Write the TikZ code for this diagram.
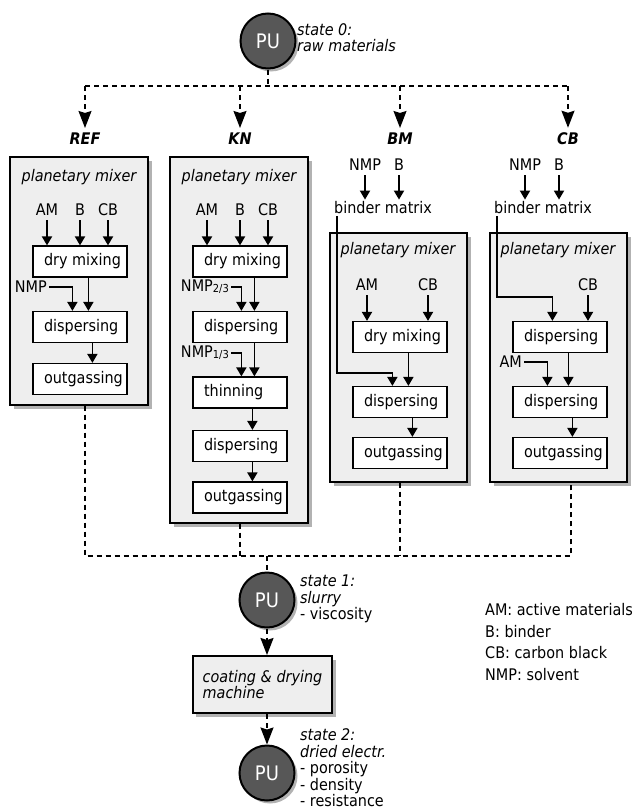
\documentclass[tikz,border=0pt]{standalone}
\usepackage{fontspec}
\setmainfont{DejaVu Sans}[FakeStretch=0.9]
\usetikzlibrary{arrows.meta,shadows,calc}
\definecolor{panelgray}{HTML}{EEEEEE}
\definecolor{unitgray}{HTML}{575757}
% fixed-width, left-aligned text inside the process steps
\newcommand\steptext[1]{\makebox[72pt][l]{#1}}
\newcommand\nmppart[1]{NMP\raisebox{-1pt}{\fontsize{11}{11}\selectfont #1}}

\begin{document}
\begin{tikzpicture}[x=1pt,y=-1pt,
  font=\fontsize{16}{16.5}\selectfont,
  panel/.style={draw=black, line width=1.4pt, fill=panelgray,
    drop shadow={shadow xshift=3.5pt, shadow yshift=-3.5pt, opacity=0.3, fill=black}},
  stepbox/.style={draw=black, line width=1.2pt, fill=white,
    minimum width=94pt, minimum height=31pt, inner xsep=11pt, inner ysep=0pt},
  lab/.style={inner sep=2pt},
  inlab/.style={inner xsep=2pt, inner ysep=4pt},
  mixer/.style={font=\fontsize{16}{16}\selectfont\itshape},
  head/.style={inner sep=5pt, font=\fontsize{16}{16}\selectfont\bfseries\itshape},
  unit/.style={circle, draw=black, line width=2pt, fill=unitgray, text=white,
    minimum size=55pt, inner sep=0pt, font=\fontsize{20}{20}\selectfont,
    drop shadow={shadow xshift=3pt, shadow yshift=-3pt, opacity=0.3, fill=black}},
  machine/.style={draw=black, line width=2pt, fill=panelgray, minimum width=139pt,
    minimum height=57pt, inner xsep=10pt, align=left,
    font=\fontsize{16}{16}\selectfont\itshape,
    drop shadow={shadow xshift=3.5pt, shadow yshift=-3.5pt, opacity=0.3, fill=black}},
  note/.style={anchor=west, align=left, inner sep=0pt},
  arr/.style={line width=1.8pt, -{Triangle[length=9pt,width=10pt]}},
  dline/.style={line width=1.4pt, dash pattern=on 5pt off 4pt},
  darr/.style={dline, -{Stealth[length=17pt,width=13pt,inset=2pt]}}
]
\fill[white] (0,0) rectangle (637,811);
\useasboundingbox (0,0) rectangle (637,811);

% ---------- raw materials ----------
\node[unit] (pu0) at (268,41) {PU};
\node[note, font=\fontsize{16}{15.5}\selectfont] (s0) at (297,37.5) {{\itshape state 0:}\\{\itshape raw materials}};

\coordinate (topL) at (85,86);
\coordinate (topR) at (568,86);

\node[head] (hREF) at (85,139) {REF};
\node[head] (hKN)  at (240,139) {KN};
\node[head] (hBM)  at (400,139) {BM};
\node[head] (hCB)  at (568,139) {CB};

\draw[dline] (pu0.south) -- (pu0.south |- topL);
\draw[dline] (topL) -- (topR);
\draw[darr] (topL) -- (hREF.north);
\draw[darr] (hKN.north |- topL) -- (hKN.north);
\draw[darr] (hBM.north |- topL) -- (hBM.north);
\draw[darr] (topR) -- (hCB.north);

% ---------- panels ----------
\node[panel, minimum width=138pt, minimum height=248pt] (refbox) at (79,281) {};
\node[panel, minimum width=138pt, minimum height=366pt] (knbox) at (239,340) {};
\node[panel, minimum width=137pt, minimum height=249pt] (bmbox) at (398.5,357.5) {};
\node[panel, minimum width=137pt, minimum height=249pt] (cbbox) at (558.5,357.5) {};

% ---------- REF ----------
\node[mixer] (pmR) at (79,177) {planetary mixer};
\node[inlab] (amR) at (47,210) {AM};
\node[inlab] (bR)  at (80,210) {B};
\node[inlab] (cbR) at (108,210) {CB};
\node[stepbox] (dmR)   at (80,261.5) {\steptext{dry mixing}};
\node[stepbox] (dispR) at (80,327)   {\steptext{dispersing}};
\node[stepbox] (outR)  at (80,379)   {\steptext{outgassing}};
\node[lab, anchor=east] (nmpR) at (49,287) {NMP};
\draw[arr] (amR.south) -- (amR.south |- dmR.north);
\draw[arr] (bR.south)  -- (bR.south |- dmR.north);
\draw[arr] (cbR.south) -- (cbR.south |- dmR.north);
\draw[arr] ($(dmR.south west)+(56,0)$) -- ($(dispR.north west)+(56,0)$);
\draw[arr] (nmpR.east) -| ($(dispR.north west)+(40,0)$);
\draw[arr] ($(dispR.south west)+(60,0)$) -- ($(outR.north west)+(60,0)$);

% ---------- KN ----------
\node[mixer] (pmK) at (239,177) {planetary mixer};
\node[inlab] (amK) at (207,210) {AM};
\node[inlab] (bK)  at (240,210) {B};
\node[inlab] (cbK) at (268,210) {CB};
\node[stepbox] (dmK)    at (240,261.5) {\steptext{dry mixing}};
\node[stepbox] (dispK)  at (240,327)   {\steptext{dispersing}};
\node[stepbox] (thinK)  at (240,392.5) {\steptext{thinning}};
\node[stepbox] (disp2K) at (240,446)   {\steptext{dispersing}};
\node[stepbox] (outK)   at (240,497.5) {\steptext{outgassing}};
\node[lab, anchor=east] (nmpKa) at (231,287) {\nmppart{2/3}};
\node[lab, anchor=east] (nmpKb) at (231,353) {\nmppart{1/3}};
\draw[arr] (amK.south) -- (amK.south |- dmK.north);
\draw[arr] (bK.south)  -- (bK.south |- dmK.north);
\draw[arr] (cbK.south) -- (cbK.south |- dmK.north);
\draw[arr] ($(dmK.south west)+(62,0)$) -- ($(dispK.north west)+(62,0)$);
\draw[arr] (nmpKa.east) -| ($(dispK.north west)+(49,0)$);
\draw[arr] ($(dispK.south west)+(62,0)$) -- ($(thinK.north west)+(62,0)$);
\draw[arr] (nmpKb.east) -| ($(thinK.north west)+(49,0)$);
\draw[arr] ($(thinK.south west)+(60,0)$) -- ($(disp2K.north west)+(60,0)$);
\draw[arr] ($(disp2K.south west)+(60,0)$) -- ($(outK.north west)+(60,0)$);

% ---------- BM ----------
\node[inlab] (nmpB) at (365,165) {NMP};
\node[inlab] (bB)   at (399,165) {B};
\node[lab] (matB)   at (383,208) {binder matrix};
\draw[arr] (nmpB.south) -- (nmpB.south |- matB.north);
\draw[arr] (bB.south)   -- (bB.south |- matB.north);
\node[mixer] (pmB) at (398,250) {planetary mixer};
\node[inlab] (amB) at (367,285) {AM};
\node[inlab] (cbB) at (428,285) {CB};
\node[stepbox] (dmB)   at (400,337) {\steptext{dry mixing}};
\node[stepbox] (dispB) at (400,402) {\steptext{dispersing}};
\node[stepbox] (outB)  at (400,453) {\steptext{outgassing}};
\coordinate (tapB) at (337,373);
\draw[arr] (amB.south) -- (amB.south |- dmB.north);
\draw[arr] (cbB.south) -- (cbB.south |- dmB.north);
\draw[arr] (matB.south -| tapB) -- (tapB) -| ($(dispB.north west)+(40,0)$);
\draw[arr] ($(dmB.south west)+(56,0)$) -- ($(dispB.north west)+(56,0)$);
\draw[arr] ($(dispB.south west)+(60,0)$) -- ($(outB.north west)+(60,0)$);

% ---------- CB ----------
\node[inlab] (nmpC) at (525,165) {NMP};
\node[inlab] (bC)   at (559,165) {B};
\node[lab] (matC)   at (543,208) {binder matrix};
\draw[arr] (nmpC.south) -- (nmpC.south |- matC.north);
\draw[arr] (bC.south)   -- (bC.south |- matC.north);
\node[mixer] (pmC) at (558,250) {planetary mixer};
\node[inlab] (cbC) at (588,285) {CB};
\node[stepbox] (disp1C) at (560,337) {\steptext{dispersing}};
\node[stepbox] (disp2C) at (560,402) {\steptext{dispersing}};
\node[stepbox] (outC)   at (560,453) {\steptext{outgassing}};
\node[lab, anchor=east] (amC) at (524,362) {AM};
\coordinate (tapC) at (497,297);
\draw[arr] (cbC.south) -- (cbC.south |- disp1C.north);
\draw[arr] (matC.south -| tapC) -- (tapC) -| ($(disp1C.north west)+(40,0)$);
\draw[arr] ($(disp1C.south west)+(56,0)$) -- ($(disp2C.north west)+(56,0)$);
\draw[arr] (amC.east) -| ($(disp2C.north west)+(35,0)$);
\draw[arr] ($(disp2C.south west)+(60,0)$) -- ($(outC.north west)+(60,0)$);

% ---------- slurry and electrode ----------
\coordinate (botL) at (85,556);
\coordinate (botR) at (571,556);
\node[unit] (pu1) at (267,600) {PU};
\node[machine] (coat) at (262.5,684.5) {coating \& drying\\machine};
\node[unit] (pu2) at (267,773) {PU};

\draw[dline] (refbox.south -| botL) -- (botL) -- (botR) -- (cbbox.south -| botR);
\draw[dline] (knbox.south -| hKN) -- (hKN |- botL);
\draw[dline] (bmbox.south -| hBM) -- (hBM |- botL);
\draw[dline] (pu1.north |- botL) -- (pu1.north);
\draw[darr] (pu1.south) -- (coat.north -| pu1.south);
\draw[darr] (coat.south -| pu2.north) -- (pu2.north);

\node[note] (s1) at (300,599) {{\itshape state 1:}\\{\itshape slurry}\\- viscosity};
\node[note] (s2) at (300,768) {{\itshape state 2:}\\{\itshape dried electr.}\\- porosity\\- density\\- resistance};

% ---------- legend ----------
\node[note, font=\fontsize{16}{21.5}\selectfont] (legend) at (485,642)
  {AM: active materials\\B: binder\\CB: carbon black\\NMP: solvent};
\end{tikzpicture}
\end{document}
